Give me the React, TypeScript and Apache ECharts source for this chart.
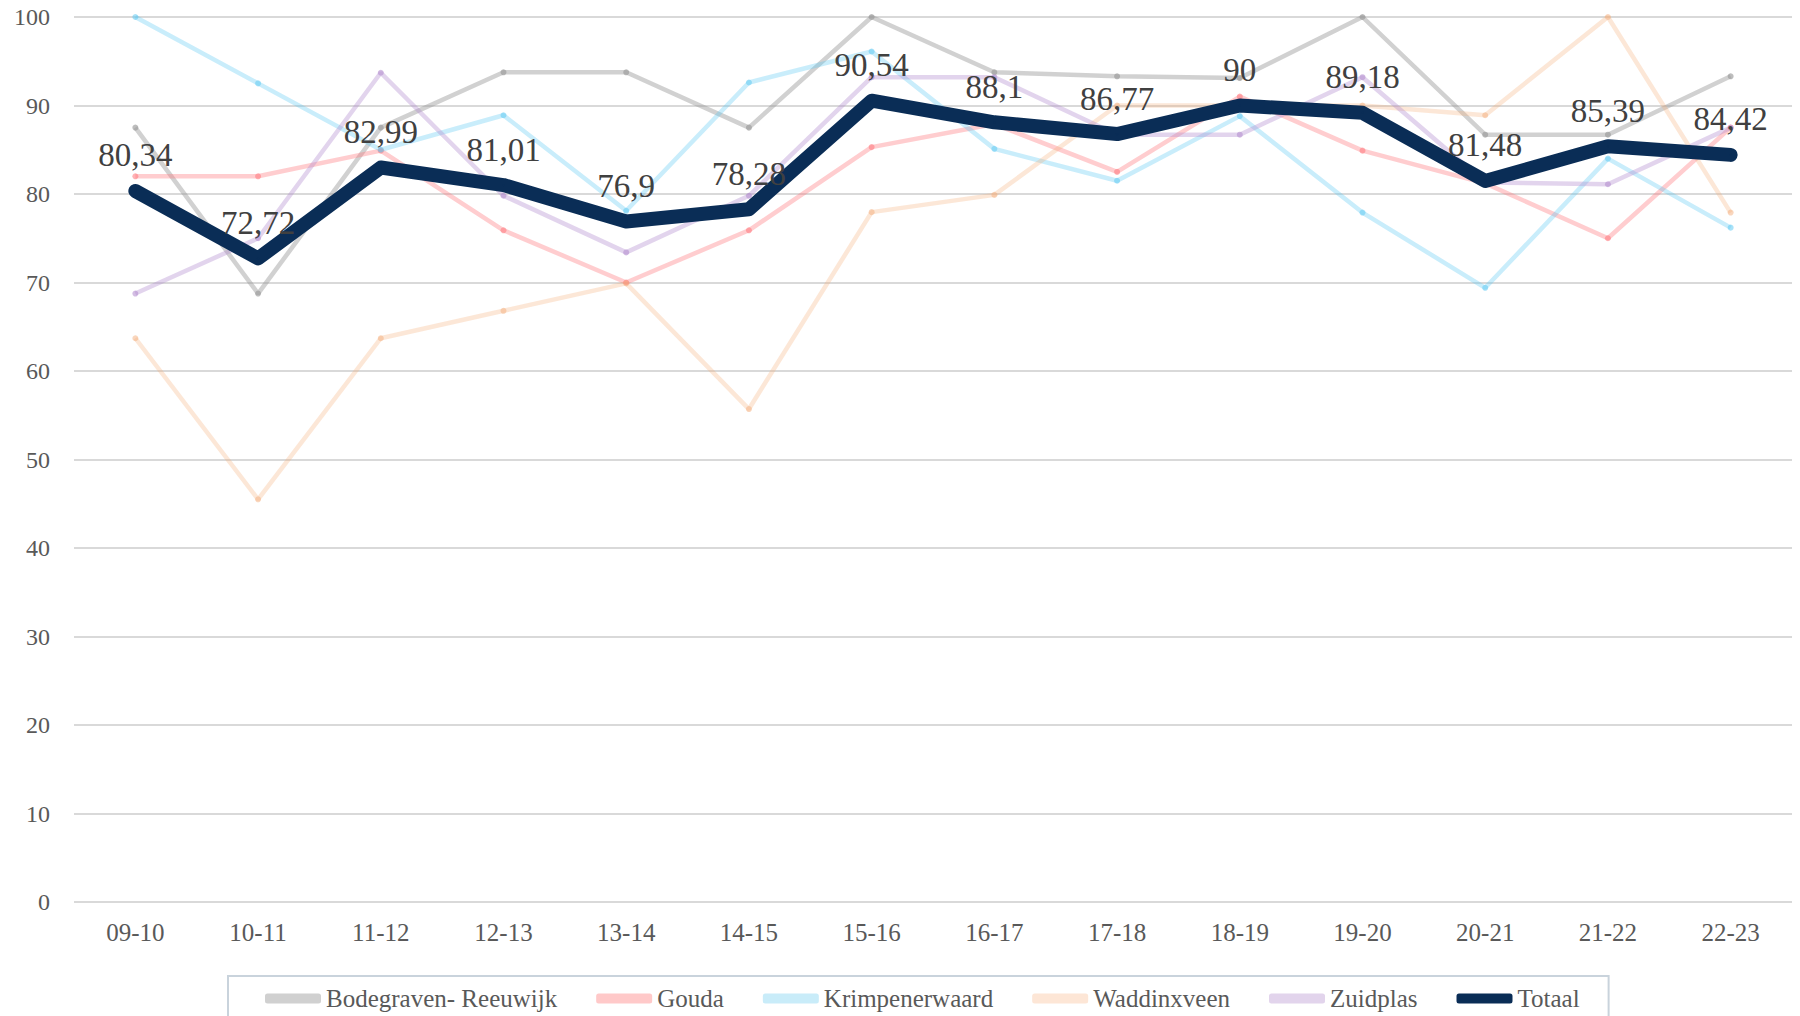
import React, { useEffect, useRef } from "react";
import * as echarts from "echarts";

const categories = ["09-10", "10-11", "11-12", "12-13", "13-14", "14-15", "15-16", "16-17", "17-18", "18-19", "19-20", "20-21", "21-22", "22-23"];

const bodegraven = [87.5, 68.75, 87.5, 93.75, 93.75, 87.5, 100, 93.75, 93.3, 93.1, 100, 86.7, 86.7, 93.3];
const gouda = [82, 82, 84.9, 75.9, 70, 75.9, 85.3, 87.9, 82.5, 91, 84.9, 81.2, 75, 87.5];
const krimpenerwaard = [100, 92.5, 85, 88.9, 78.1, 92.6, 96.1, 85.1, 81.5, 88.8, 77.9, 69.4, 84, 76.2];
const waddinxveen = [63.7, 45.5, 63.7, 66.8, 69.9, 55.7, 77.95, 79.9, 90, 90, 90, 88.9, 100, 77.9];
const zuidplas = [68.75, 75, 93.7, 79.8, 73.4, 79.8, 93.2, 93.2, 86.7, 86.7, 93.2, 81.3, 81.1, 87.5];
const totaal = [80.34, 72.72, 82.99, 81.01, 76.9, 78.28, 90.54, 88.1, 86.77, 90, 89.18, 81.48, 85.39, 84.42];

const yTicks = { min: 0, max: 100, interval: 10 };

const FONT = "'Liberation Serif', 'DejaVu Serif', serif";

const thinSeries = [
  { name: "Bodegraven- Reeuwijk", data: bodegraven, base: "#9a9a9a", op: 0.45, legend: "#d0d0d0" },
  { name: "Gouda", data: gouda, base: "#ff7b80", op: 0.38, legend: "#ffc9c9" },
  { name: "Krimpenerwaard", data: krimpenerwaard, base: "#5cc9f2", op: 0.33, legend: "#c9ecf9" },
  { name: "Waddinxveen", data: waddinxveen, base: "#f4ae7c", op: 0.3, legend: "#fde6d6" },
  { name: "Zuidplas", data: zuidplas, base: "#b38dcf", op: 0.38, legend: "#e2d4ec" },
];

export default function App() {
  const ref = useRef<HTMLDivElement>(null);
  useEffect(() => {
    document.body.style.margin = "0";
    if (!ref.current) return;
    const chart = echarts.init(ref.current, null, { renderer: "svg" });
    const series: any[] = thinSeries.map((s) => ({
      name: s.name,
      type: "line",
      data: s.data,
      symbol: "circle",
      symbolSize: 6,
      lineStyle: { color: s.base, width: 4.5, opacity: s.op },
      itemStyle: { color: s.base, opacity: Math.min(1, s.op + 0.2) },
      emphasis: { disabled: true },
    }));
    series.push({
      name: "Totaal",
      type: "line",
      data: totaal,
      symbol: "circle",
      symbolSize: 2,
      showSymbol: true,
      lineStyle: { color: "#0a2d56", width: 14, cap: "round", join: "round" },
      itemStyle: { color: "#0a2d56" },
      label: {
        show: true,
        position: "top",
        distance: 18,
        fontFamily: FONT,
        fontSize: 33,
        color: "#404040",
        formatter: (p: any) => String(p.value).replace(".", ","),
      },
      z: 10,
      emphasis: { disabled: true },
    });
    const legendColors = [...thinSeries.map((s) => s.legend), "#0a2d56"];
    const legendNames = [...thinSeries.map((s) => s.name), "Totaal"];
    chart.setOption({
      animation: false,
      grid: { left: 74, right: 8, top: 17, bottom: 114, containLabel: false },
      xAxis: {
        type: "category",
        data: categories,
        boundaryGap: true,
        axisLine: { show: false },
        axisTick: { show: false },
        axisLabel: { fontFamily: FONT, fontSize: 25, color: "#595959", margin: 18 },
      },
      yAxis: {
        type: "value",
        min: yTicks.min,
        max: yTicks.max,
        interval: yTicks.interval,
        axisLine: { show: false },
        axisTick: { show: false },
        axisLabel: { fontFamily: FONT, fontSize: 24, color: "#595959", margin: 24 },
        splitLine: { lineStyle: { color: "#d9d9d9", width: 2 } },
      },
      legend: {
        left: 228,
        top: 976,
        itemGap: 39,
        itemWidth: 56,
        itemHeight: 10,
        padding: [10, 29, 40, 37],
        borderColor: "#c9d3dc",
        borderWidth: 2,
        textStyle: { fontFamily: FONT, fontSize: 25, color: "#595959" },
        selectedMode: false,
        data: legendNames.map((n, i) => ({
          name: n,
          icon: "roundRect",
          itemStyle: { color: legendColors[i], opacity: 1 },
        })),
      },
      series,
    });
    return () => chart.dispose();
  }, []);
  return <div ref={ref} style={{ width: 1800, height: 1016 }} />;
}
